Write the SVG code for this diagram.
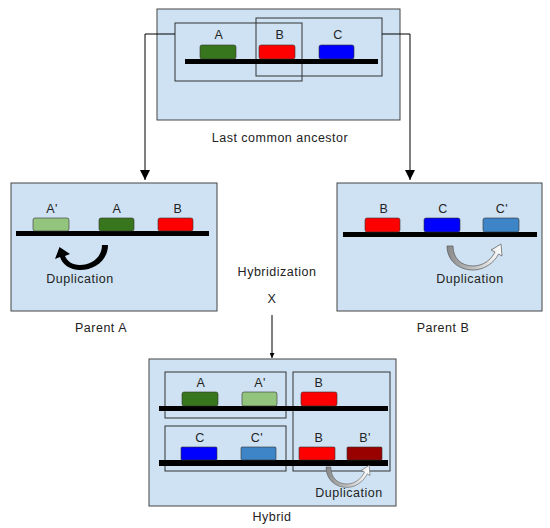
<svg xmlns="http://www.w3.org/2000/svg" width="550" height="528" viewBox="0 0 550 528">
<style>
text{font-family:"Liberation Sans",Arial,sans-serif;font-size:12.5px;letter-spacing:0.5px;fill:#222;text-anchor:middle}
.box{fill:#cfe2f3;stroke:#444;stroke-width:1}
.inner{fill:none;stroke:#333;stroke-width:1}
.chr{fill:#000}
.g{stroke:#333;stroke-width:0.6}
.conn{fill:none;stroke:#000;stroke-width:1}
.gA{fill:#38761d}.gA2{fill:#93c47d}.gB{fill:#ff0000}.gB2{fill:#990000}.gC{fill:#0000ff}.gC2{fill:#3d85c6}
.hollow{fill:url(#grad);stroke:#555;stroke-width:0.7}
</style>
<defs>
<marker id="ah" viewBox="0 0 10 10" refX="10" refY="5" markerWidth="10" markerHeight="10" markerUnits="userSpaceOnUse" orient="auto">
<path d="M0,0 L10,5 L0,10 Z" fill="#000"/>
</marker>
<marker id="ahs" viewBox="0 0 10 10" refX="10" refY="5" markerWidth="5" markerHeight="5" markerUnits="userSpaceOnUse" orient="auto">
<path d="M0,0 L10,5 L0,10 Z" fill="#000"/>
</marker>
<linearGradient id="grad" x1="0" y1="0" x2="1" y2="0">
<stop offset="0" stop-color="#888"/>
<stop offset="1" stop-color="#fff"/>
</linearGradient>
<path id="dupArrow" d="M0 0 L6 0 C6 12 14 20 26 20 C36 20 44 14 48 6 L44 4 L54 -2 L55 10 L51.6 8 C47 17 37 24 26 24 C11 24 0 14 0 0 Z"/>
</defs>

<g id="ancestor">
<rect class="box" x="157" y="9" width="243" height="111"/>
<rect class="inner" x="175" y="23" width="127" height="58"/>
<rect class="inner" x="256" y="18" width="126" height="58"/>
<rect class="chr" x="185" y="59" width="193" height="5"/>
<rect class="g gA" x="200" y="45" width="36" height="14" rx="2"/>
<rect class="g gB" x="259" y="45" width="36" height="14" rx="2"/>
<rect class="g gC" x="319" y="45" width="35" height="14" rx="2"/>
<text x="219" y="39">A</text>
<text x="280" y="39">B</text>
<text x="338" y="39">C</text>
<text x="280" y="142">Last common ancestor</text>
</g>

<g id="parentA">
<rect class="box" x="11" y="183" width="206" height="128"/>
<rect class="chr" x="16" y="231" width="193" height="5"/>
<rect class="g gA2" x="33" y="218" width="36" height="13" rx="2"/>
<rect class="g gA" x="99" y="218" width="35" height="13" rx="2"/>
<rect class="g gB" x="158" y="218" width="35" height="13" rx="2"/>
<text x="52" y="213">A'</text>
<text x="117" y="213">A</text>
<text x="178" y="213">B</text>
<path d="M102 245 L108 245 C108 260 95 270 80 270 C70 270 62 264 60 257 L55 259 L59.5 247 L70 254 L65 256 C67 261 72 265 80 265 C92 265 102 257 102 245 Z" fill="#000"/>
<text x="80" y="283">Duplication</text>
<text x="101" y="332">Parent A</text>
</g>

<g id="parentB">
<rect class="box" x="337" y="183" width="205" height="128"/>
<rect class="chr" x="343" y="232" width="194" height="5"/>
<rect class="g gB" x="365" y="218" width="35" height="14" rx="2"/>
<rect class="g gC" x="424" y="218" width="36" height="14" rx="2"/>
<rect class="g gC2" x="483" y="218" width="36" height="14" rx="2"/>
<text x="384" y="213">B</text>
<text x="443" y="213">C</text>
<text x="502" y="213">C'</text>
<use href="#dupArrow" class="hollow" transform="translate(447,246)"/>
<text x="470" y="283">Duplication</text>
<text x="443" y="332">Parent B</text>
</g>

<g id="hybridization">
<text x="277" y="276">Hybridization</text>
<text x="272" y="303">X</text>
</g>

<g id="hybrid">
<rect class="box" x="149" y="359" width="247" height="147"/>
<rect class="inner" x="165" y="372" width="121" height="46"/>
<rect class="inner" x="165" y="426" width="121" height="45"/>
<rect class="inner" x="293" y="372" width="97" height="99"/>
<rect class="chr" x="159" y="406" width="229" height="5"/>
<rect class="chr" x="159" y="460" width="229" height="6"/>
<rect class="g gA" x="182" y="392" width="36" height="14" rx="2"/>
<rect class="g gA2" x="242" y="392" width="35" height="14" rx="2"/>
<rect class="g gB" x="301" y="392" width="36" height="14" rx="2"/>
<rect class="g gC" x="181" y="447" width="36" height="13" rx="1"/>
<rect class="g gC2" x="241" y="447" width="35" height="13" rx="1"/>
<rect class="g gB" x="299" y="447" width="36" height="13" rx="1"/>
<rect class="g gB2" x="347" y="447" width="35" height="13" rx="1"/>
<text x="201" y="387">A</text>
<text x="260" y="387">A'</text>
<text x="319" y="387">B</text>
<text x="200" y="442">C</text>
<text x="257" y="442">C'</text>
<text x="319" y="442">B</text>
<text x="365" y="442">B'</text>
<use href="#dupArrow" class="hollow" transform="translate(326,467) scale(0.8,0.85)"/>
<text x="349" y="497">Duplication</text>
<text x="272" y="521">Hybrid</text>
</g>

<g id="connectors">
<path class="conn" d="M175 34 H145 V180" marker-end="url(#ah)"/>
<path class="conn" d="M382 34 H410 V180" marker-end="url(#ah)"/>
<path class="conn" d="M272 315 V358" marker-end="url(#ahs)"/>
</g>
</svg>
